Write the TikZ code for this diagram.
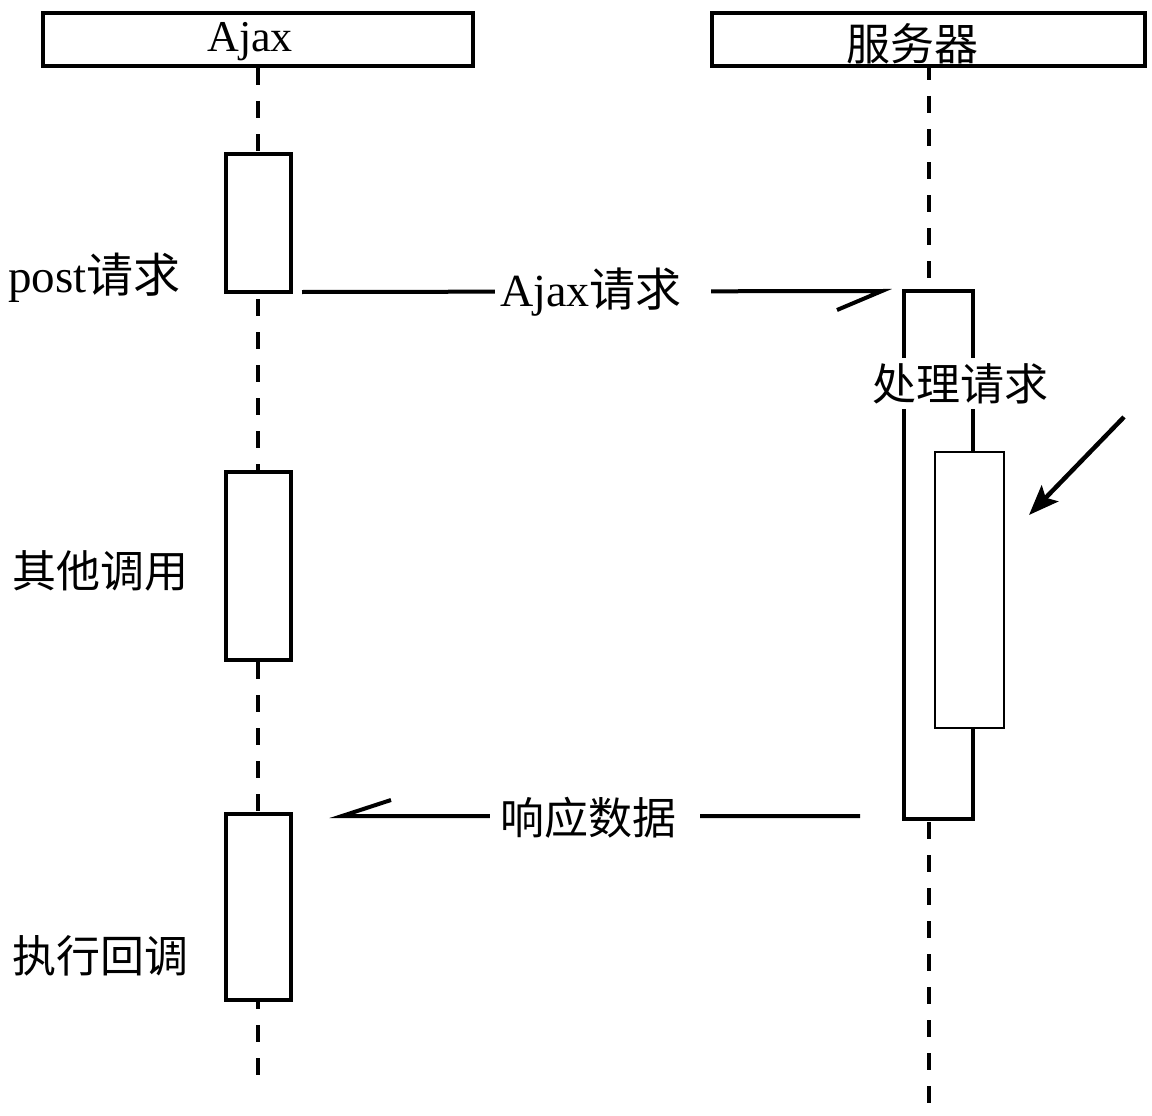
\documentclass[tikz,border=0pt]{standalone}
\usepackage{fontspec}
\setmainfont{Liberation Serif}
\newfontfamily\cjk{Noto Sans CJK SC}
\usetikzlibrary{arrows.meta,calc}

\begin{document}
\begin{tikzpicture}[x=1pt,y=-1pt,
  txt/.style={font=\fontsize{44}{50}\selectfont, inner sep=0pt},
  bigtxt/.style={font=\fontsize{47}{52}\selectfont, inner sep=0pt},
  headbox/.style={draw, line width=4pt, fill=white, minimum height=53pt, outer sep=0pt, inner sep=0pt},
  actbox/.style={draw, line width=4pt, fill=white, outer sep=0pt, inner sep=0pt},
  subbox/.style={draw, line width=2.5pt, fill=white, outer sep=0pt, inner sep=0pt},
  lifeA/.style={line width=3.5pt, dash pattern=on 17pt off 16pt, dash phase=31pt},
  lifeS/.style={line width=3.2pt, dash pattern=on 17pt off 16pt, dash phase=3pt},
  msg/.style={line width=4pt, line join=miter},
  pointer/.style={line width=4.5pt, -{Stealth[length=30pt,width=23pt,inset=6pt]}}
]
\useasboundingbox[fill=white] (0,0) rectangle (1152,1116);

% lifeline heads
\node[headbox, minimum width=430pt] (hA) at (258,39.5) {};
\node[headbox, minimum width=433pt] (hS) at (928.5,39.5) {};
\node[txt, anchor=base] (tA) at (250,52) {Ajax};
\node[txt, anchor=base] (tS) at (912,61) {\cjk 服务器};

% lifelines
\coordinate (endA) at (258,1086);
\coordinate (endS) at (929,1103);
\draw[lifeA] (258,66) -- (endA);
\draw[lifeS] (929,66) -- (endS);

% activations on the Ajax side
\node[actbox, minimum width=65pt, minimum height=138pt] (a1) at (258.5,223) {};
\node[actbox, minimum width=65pt, minimum height=188pt] (a2) at (258.5,566) {};
\node[actbox, minimum width=65pt, minimum height=186pt] (a3) at (258.5,907) {};

% activations on the server side
\node[actbox, minimum width=69pt, minimum height=528pt] (sb) at (938.5,555) {};
\node[subbox, minimum width=69pt, minimum height=276pt] (ib) at (969.5,590) {};

% side labels
\node[bigtxt, anchor=base west] (l1) at (8,292) {post{\cjk 请求}};
\node[txt, anchor=base west] (l2) at (12,587) {\cjk 其他调用};
\node[txt, anchor=base west] (l3) at (12,972) {\cjk 执行回调};
\node[txt, anchor=base, fill=white, inner xsep=2pt, inner ysep=5pt] (l4) at (960,400) {\cjk 处理请求};

% request message
\coordinate (m1s) at ([xshift=11pt]a1.south east);
\coordinate (m1e) at ([xshift=-22pt]sb.north west);
\draw[msg] (m1s) -- (m1e) -- ++(-45,19);
\node[txt, font=\fontsize{46}{50}\selectfont, anchor=base west, fill=white, inner xsep=5pt, inner ysep=4pt] (q1) at (495,306) {Ajax{\cjk 请求}\kern24pt};

% response message
\coordinate (m2s) at (860,816);
\coordinate (m2e) at (342,816);
\draw[msg] (m2s) -- (m2e) -- ++(49,-16);
\node[txt, anchor=base west, fill=white, inner xsep=10pt, inner ysep=4pt] (q2) at (490,834) {\cjk 响应数据\kern14pt};

% pointer to the nested activation
\coordinate (pS) at (1124,417);
\coordinate (pE) at (1029,515);
\draw[pointer] (pS) -- (pE);
\end{tikzpicture}
\end{document}
